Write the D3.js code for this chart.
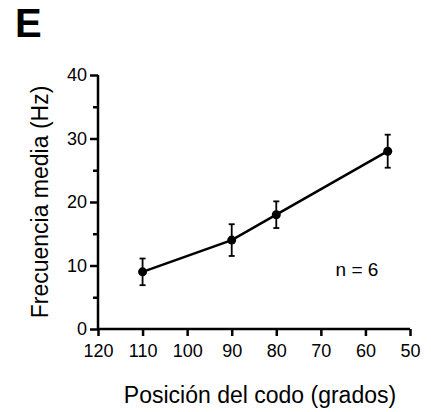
<!DOCTYPE html>
<html>
<head>
<meta charset="utf-8">
<script src="https://cdn.jsdelivr.net/npm/d3@7"></script>
<style>
  html, body { margin: 0; padding: 0; background: #fff; }
  svg { display: block; }
  text { font-family: "Liberation Sans", Arial, sans-serif; fill: #000; }
</style>
</head>
<body>
<svg id="chart" width="431" height="412"></svg>
<script>
// Elbow position (degrees) and mean firing frequency (Hz) with error
const positions = [110, 90, 80, 55];
const meanFreq = [9, 14, 18, 28];
const errFreq = [2.1, 2.5, 2.1, 2.6];
const xTicks = [120, 110, 100, 90, 80, 70, 60, 50];
const yTicks = [0, 10, 20, 30, 40];
const yMinorTicks = [5, 15, 25, 35];

const svg = d3.select("#chart");
const margin = { left: 98, right: 21, top: 75, bottom: 83 };
const W = 431, H = 412;

const x = d3.scaleLinear().domain([120, 50]).range([margin.left, W - margin.right]);
const y = d3.scaleLinear().domain([0, 40]).range([H - margin.bottom, margin.top]);

const axisW = 2.5;
const tickFont = "18px";

// Y axis
const yAxis = svg.append("g")
  .attr("transform", `translate(${margin.left},0)`)
  .call(d3.axisLeft(y).tickValues(yTicks).tickSize(8).tickPadding(3).tickFormat(d3.format("d")));
yAxis.select(".domain").attr("stroke-width", axisW).attr("d", `M-0,${y(40)}V${y(0)}`);
yAxis.selectAll(".tick line").attr("stroke-width", axisW);
yAxis.selectAll(".tick text").style("font-size", tickFont).style("font-family", "Liberation Sans, Arial, sans-serif");

const yMinor = svg.append("g")
  .attr("transform", `translate(${margin.left},0)`)
  .call(d3.axisLeft(y).tickValues(yMinorTicks).tickSize(5).tickFormat(""));
yMinor.select(".domain").remove();
yMinor.selectAll(".tick line").attr("stroke-width", axisW);

// X axis
const xAxis = svg.append("g")
  .attr("transform", `translate(0,${y(0)})`)
  .call(d3.axisBottom(x).tickValues(xTicks).tickSize(7).tickPadding(8).tickFormat(d3.format("d")));
xAxis.select(".domain").attr("stroke-width", axisW).attr("d", `M${x(120)},0H${x(50)}`);
xAxis.selectAll(".tick line").attr("stroke-width", axisW);
xAxis.selectAll(".tick text").style("font-size", tickFont).style("font-family", "Liberation Sans, Arial, sans-serif");

const data = positions.map((p, i) => ({ p, m: meanFreq[i], e: errFreq[i] }));

// Connecting line
svg.append("path")
  .datum(data)
  .attr("fill", "none")
  .attr("stroke", "#000")
  .attr("stroke-width", 2.5)
  .attr("d", d3.line().x(d => x(d.p)).y(d => y(d.m)));

// Error bars
const eb = svg.append("g").attr("stroke", "#000").attr("stroke-width", 1.8);
data.forEach(d => {
  eb.append("line").attr("x1", x(d.p)).attr("x2", x(d.p)).attr("y1", y(d.m - d.e)).attr("y2", y(d.m + d.e));
  [d.m - d.e, d.m + d.e].forEach(v => {
    eb.append("line").attr("x1", x(d.p) - 3).attr("x2", x(d.p) + 3).attr("y1", y(v)).attr("y2", y(v));
  });
});

// Points
svg.append("g").selectAll("circle")
  .data(data)
  .join("circle")
  .attr("cx", d => x(d.p))
  .attr("cy", d => y(d.m))
  .attr("r", 4.5)
  .attr("fill", "#000");

// Labels
svg.append("text")
  .attr("x", 15).attr("y", 37)
  .style("font-size", "40px").style("font-weight", "bold")
  .text("E");

svg.append("text")
  .attr("transform", `translate(48,${(y(0) + y(40)) / 2}) rotate(-90)`)
  .attr("text-anchor", "middle")
  .style("font-size", "23px")
  .text("Frecuencia media (Hz)");

svg.append("text")
  .attr("x", 260)
  .attr("y", 403)
  .attr("text-anchor", "middle")
  .style("font-size", "23px")
  .text("Posición del codo (grados)");

svg.append("text")
  .attr("x", 357).attr("y", 276)
  .attr("text-anchor", "middle")
  .style("font-size", "19px")
  .text("n = 6");
</script>
</body>
</html>
